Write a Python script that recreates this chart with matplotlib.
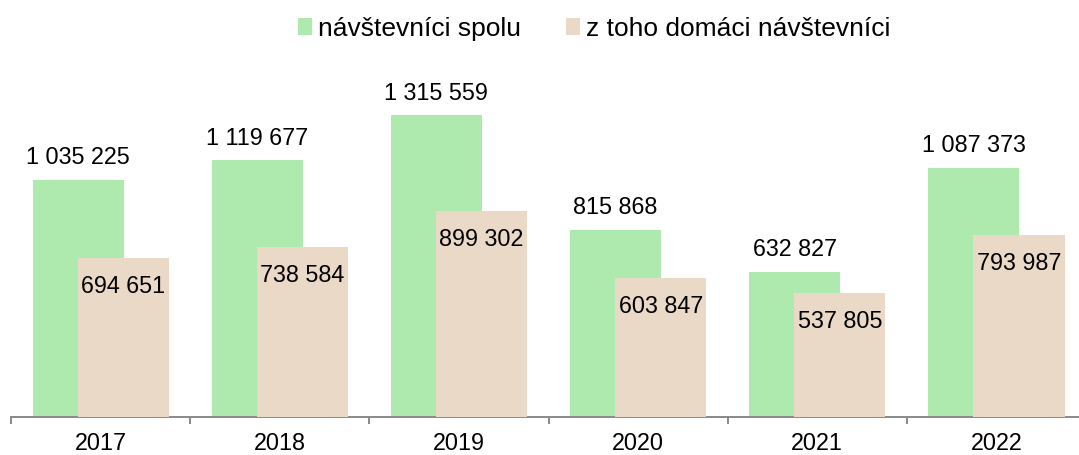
import matplotlib
matplotlib.use('Agg')
import matplotlib.pyplot as plt
import numpy as np

years = ['2017', '2018', '2019', '2020', '2021', '2022']
spolu = [1035225, 1119677, 1315559, 815868, 632827, 1087373]
domaci = [694651, 738584, 899302, 603847, 537805, 793987]
labels = ['návštevníci spolu', 'z toho domáci návštevníci']

def fmt(v):
    return f'{v:,}'.replace(',', ' ')

plt.rcParams['font.family'] = ['Liberation Sans', 'DejaVu Sans']
plt.rcParams['font.size'] = 16.8

fig = plt.figure(figsize=(10.79, 4.55), dpi=100)
ax = fig.add_axes([11 / 1079, (455 - 416.5) / 455, 1075 / 1079, 356.5 / 455])

x = np.arange(len(years))
w = 0.508
off = 0.126
green = '#aeeaae'
beige = '#ebd9c8'

b1 = ax.bar(x - off, spolu, w, color=green, label=labels[0], zorder=2)
b2 = ax.bar(x + off, domaci, w, color=beige, label=labels[1], zorder=3)

for xi, v in zip(x, spolu):
    ax.annotate(fmt(v), (xi - off, v), xytext=(0, 15.8), textcoords='offset points',
                ha='center', va='center', zorder=4)
for xi, v in zip(x, domaci):
    ax.annotate(fmt(v), (xi + off, v), xytext=(0, -20.5), textcoords='offset points',
                ha='center', va='center', zorder=4)

ax.set_xlim(-0.5, len(years) - 0.5)
ax.set_ylim(0, 1558000)
ax.set_yticks([])
for s in ['top', 'right', 'left']:
    ax.spines[s].set_visible(False)
ax.spines['bottom'].set_color('#8c8c8c')
ax.spines['bottom'].set_linewidth(1.44)

ax.set_xticks(x)
ax.set_xticklabels(years)
ax.set_xticks(np.arange(-0.5, len(years), 1), minor=True)
ax.tick_params(axis='x', which='major', length=0, pad=11.5)
ax.tick_params(axis='x', which='minor', length=5, width=1.44, color='#8c8c8c')

fig.legend(handles=[b1, b2], labels=labels, loc='center',
           bbox_to_anchor=(594.5 / 1079, 1 - 29 / 455), ncol=2, frameon=False,
           prop={'size': 19}, handlelength=0.53, handleheight=0.6,
           handletextpad=0.23, columnspacing=1.7, borderaxespad=0, borderpad=0)

fig.savefig('out.png', dpi=100)
